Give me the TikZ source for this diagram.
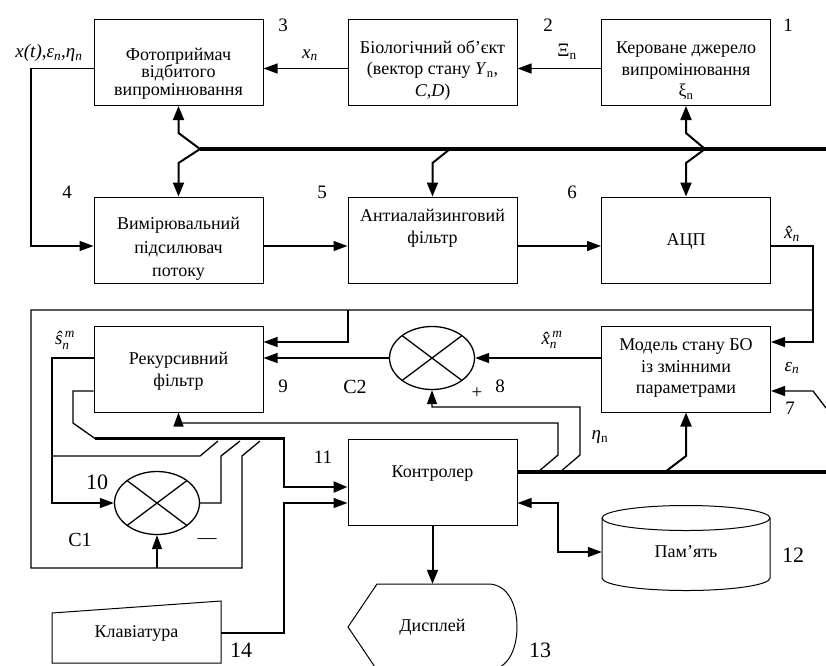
\documentclass[tikz,border=0pt]{standalone}
\usepackage{amsmath}
\usepackage{fontspec}
\setmainfont{Liberation Serif}
\usetikzlibrary{arrows.meta, positioning, calc, shapes.geometric}
\tikzset{every node/.style={font=\fontsize{18}{21.5}\selectfont}}
\newcommand{\iv}[2]{\textit{#1}\textsubscript{\textit{#2}}}

\begin{document}
\begin{tikzpicture}[x=1pt, y=-1pt,
    blkbox/.style={draw, line width=1pt, minimum width=169pt, minimum height=86pt, inner sep=0pt},
    blktext/.style={align=center, inner sep=0pt},
    sumnode/.style={draw, ellipse, line width=1.3pt, minimum width=85pt, minimum height=63pt, inner sep=0pt},
    numlbl/.style={inner sep=0pt, font=\fontsize{19}{22}\selectfont},
    biglbl/.style={inner sep=0pt, font=\fontsize{22}{24}\selectfont},
    sig/.style={line width=1.3pt},
    arr/.style={sig, -{Triangle[length=14pt, width=10pt]}},
    busarr/.style={line width=2pt, -{Triangle[length=14pt, width=11pt]}},
    bus/.style={line width=4pt}]
  \clip (0,0) rectangle (826,665);

  % blocks, top row
  \node[blkbox] (src) at (686,62.5) {};
  \node[blktext] (src-t) at (686,71) {Кероване джерело\\випромінювання\\ξ\textsubscript{n}};
  \node[blkbox] (obj) at (432.5,62.5) {};
  \node[blktext] (obj-t) at (432.5,70) {Біологічний об’єкт\\(вектор стану \textit{Y}\textsubscript{n},\\\textit{C,D})};
  \node[blkbox] (phot) at (178.5,62.5) {};
  \node[blktext, font=\fontsize{18}{17.5}\selectfont] (phot-t) at (178.5,73.5) {Фотоприймач\\відбитого\\випромінювання};
  % middle row
  \node[blkbox] (amp) at (178.5,240) {};
  \node[blktext, font=\fontsize{18}{23.5}\selectfont] (amp-t) at (178.5,249) {Вимірювальний\\підсилювач\\потоку};
  \node[blkbox] (aaf) at (432.5,240) {};
  \node[blktext] (aaf-t) at (432.5,228) {Антиалайзинговий\\фільтр};
  \node[blkbox] (adc) at (686,240) {};
  \node[blktext] (adc-t) at (686,241) {АЦП};
  % processing part
  \node[blkbox] (rf) at (178.5,369) {};
  \node[blktext] (rf-t) at (178.5,371) {Рекурсивний\\фільтр};
  \node[blkbox] (mdl) at (686,369) {};
  \node[blktext] (mdl-t) at (686,368) {Модель стану БО\\із змінними\\параметрами};
  \node[blkbox] (ctl) at (432.5,482) {};
  \node[blktext] (ctl-t) at (432.5,474) {Контролер};

  % adders
  \node[sumnode] (s8) at (432,358) {};
  \node[sumnode] (s10) at (157,503) {};
  \foreach \s in {s8,s10} {
    \draw[sig] ($(\s)+(30,-22.5)$) -- ($(\s)+(-30,22.5)$);
    \draw[sig] ($(\s)+(-30,-22.5)$) -- ($(\s)+(30,22.5)$);
  }

  % peripherals
  \node[minimum width=169pt, inner sep=0pt] (kbd) at (136.5,633) {Клавіатура};
  \draw[line width=1pt] (52,613) -- (221,601) -- (221,663) -- (52,663) -- cycle;
  \node[minimum width=169pt, minimum height=86pt, inner sep=0pt] (disp) at (432.5,627) {Дисплей};
  \draw[line width=1pt] (348,627) -- (377,584) -- (488,584)
    .. controls (508,584) and (517,605) .. (517,627)
    .. controls (517,649) and (508,670) .. (488,670) -- (377,670) -- cycle;
  \node[minimum width=168pt, inner sep=0pt] (mem) at (686,552) {Пам’ять};
  \draw[line width=1pt] (686,518) ellipse [x radius=84pt, y radius=12.5pt];
  \draw[line width=1pt] (602,518) -- (602,578)
    arc[start angle=180, end angle=360, x radius=84pt, y radius=12.5pt] -- (770,518);

  % numbers
  \node[numlbl] (n1) at (788,25) {1};
  \node[numlbl] (n2) at (548,25) {2};
  \node[numlbl] (n3) at (283,25) {3};
  \node[numlbl] (n4) at (67,192) {4};
  \node[numlbl] (n5) at (322,192) {5};
  \node[numlbl] (n6) at (572,192) {6};
  \node[numlbl] (n7) at (790,408) {7};
  \node[numlbl] (n8) at (500,386) {8};
  \node[numlbl] (n9) at (283,386) {9};
  \node[biglbl] (n10) at (97,482) {10};
  \node[numlbl] (n11) at (323,457) {11};
  \node[biglbl] (n12) at (793,555) {12};
  \node[biglbl] (n13) at (540,650) {13};
  \node[biglbl] (n14) at (241,650) {14};

  % signal labels
  \node[numlbl] (l-xt) at (49,53) {\textit{x(t)},\iv{ε}{n},\iv{η}{n}};
  \node[numlbl] (l-xn) at (310,55) {\iv{x}{n}};
  \node[numlbl] (l-Xi) at (567,52) {Ξ\textsubscript{n}};
  \node[numlbl] (l-xh) at (792,234) {$\textit{x̂}_{\textit{n}}$};
  \node[numlbl] (l-xm) at (552,340) {$\textit{x̂}_{\textit{n}}^{\,\textit{m}}$};
  \node[numlbl] (l-sm) at (65,340) {$\textit{ŝ}_{\textit{n}}^{\,\textit{m}}$};
  \node[numlbl] (l-eps) at (792,368) {\iv{ε}{n}};
  \node[numlbl] (l-eta) at (600,437) {\textit{η}\textsubscript{n}};
  \node[numlbl] (l-pl) at (477,393) {+};
  \node[numlbl] (l-mi) at (207,541) {—};
  \node[numlbl, font=\fontsize{20}{22}\selectfont] (l-c1) at (80,540) {C1};
  \node[numlbl, font=\fontsize{20}{22}\selectfont] (l-c2) at (355,387) {C2};

  % measuring chain
  \draw[arr] ([yshift=-6pt]src.west) -- ([yshift=-6pt]obj.east);
  \draw[arr] ([yshift=-6pt]obj.west) -- ([yshift=-6pt]phot.east);
  \draw[arr] ([yshift=-6pt]phot.west) -- (31,68.5) |- ([yshift=-6pt]amp.west);
  \draw[arr] ([yshift=-6pt]amp.east) -- ([yshift=-6pt]aaf.west);
  \draw[arr] ([yshift=-6pt]aaf.east) -- ([yshift=-6pt]adc.west);

  % control bus
  \coordinate (bus-a) at (200,149);
  \coordinate (bus-b) at (450,149);
  \coordinate (bus-c) at (705,149);
  \draw[bus] (bus-a) -- (830,149);
  \draw[busarr] (bus-a) -- ++(-21.5,-16) -- (phot.south);
  \draw[busarr] (bus-a) -- ++(-21.5,14) -- (amp.north);
  \draw[busarr] (bus-b) -- ++(-17.5,14) -- (aaf.north);
  \draw[busarr] (bus-c) -- ++(-19,-16) -- (src.south);
  \draw[busarr] (bus-c) -- ++(-19,14) -- (adc.north);

  % estimate loop
  \draw[arr] ([yshift=-6pt]adc.east) -- (813,246) |- ([yshift=27pt]mdl.east);
  \draw[sig] (813,310) -- (31,310) -- (31,568) -- (242,568) -- (242,456) -- (260,441);
  \draw[arr] (157,568) -- (s10.south);
  \draw[arr] (348,310) |- ([yshift=27pt]rf.east);
  \draw[arr] (mdl.west |- s8.east) -- (s8.east);
  \draw[arr] (s8.west) -- (rf.east |- s8.west);
  \draw[arr] (rf.west |- s8.west) -- (52,358) |- (s10.west);
  \draw[sig] (52,456) -- (200,456) -- (218,441);
  \draw[sig] ([yshift=-22pt]rf.west) -- (73,391) -- (73,423) -- (95,438.5);
  \draw[sig] (s10.east) -- (221,503) -- (221,456) -- (240,441);
  \draw[arr] (826,408) -- (813,391) -- ([yshift=-22pt]mdl.east);

  % controller connections
  \draw[line width=2.5pt, -{Triangle[length=14pt, width=11pt]}] (95,438.5) -- (284,438.5) |- ([yshift=-5pt]ctl.west);
  \draw[arr] (kbd.east) -- (284,633) |- ([yshift=-21pt]ctl.west);
  \draw[sig, {Triangle[length=14pt, width=10pt]}-{Triangle[length=14pt, width=10pt]}] ([yshift=-21pt]ctl.east) -- (558,503) |- (mem.west);
  \draw[busarr] (ctl.south) -- (disp.north);
  \draw[line width=3.5pt] ([yshift=10pt]ctl.east) -- (830,472);
  \draw[arr] (538,472) -- (558,455) -- (558,423) -| (rf.south);
  \draw[arr] (560,472) -- (580,455) -- (580,407) -| (s8.south);
  \draw[busarr] (665,472) -- (686,456) -- (mdl.south);
\end{tikzpicture}
\end{document}
